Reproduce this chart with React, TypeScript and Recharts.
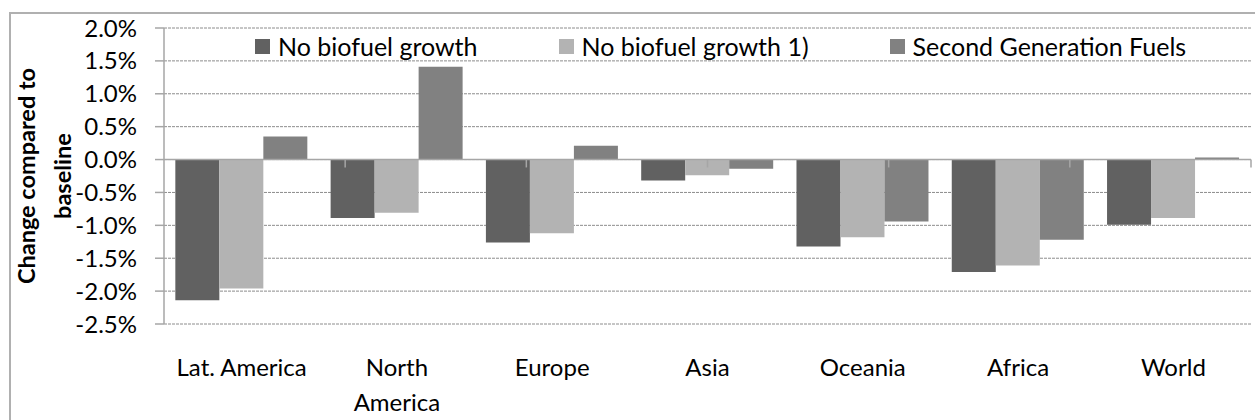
import React from "react"
import { BarChart, Bar, XAxis, YAxis, CartesianGrid, Legend, ReferenceLine } from "recharts"

const regions = ["Lat. America", "North America", "Europe", "Asia", "Oceania", "Africa", "World"]
const noGrowth = [-2.14, -0.89, -1.26, -0.32, -1.32, -1.71, -0.99]
const noGrowth1 = [-1.96, -0.81, -1.12, -0.24, -1.18, -1.61, -0.89]
const secondGen = [0.35, 1.41, 0.21, -0.14, -0.94, -1.22, 0.03]
const yTicks = [-2.5, -2, -1.5, -1, -0.5, 0, 0.5, 1, 1.5, 2]

const seriesNames = ["No biofuel growth", "No biofuel growth 1)", "Second Generation Fuels"]
const seriesKeys = ["noGrowth", "noGrowth1", "secondGen"]
const colors = ["#616161", "#b3b3b3", "#818181"]

const data = regions.map((region, i) => ({
  region,
  noGrowth: noGrowth[i],
  noGrowth1: noGrowth1[i],
  secondGen: secondGen[i],
}))

// category boundaries on a hidden numeric axis, for the small ticks under the zero line
const boundaries = regions.map((_, i) => i + 1)

const axisGray = "#a6a6a6"
const font = "Lato, 'Open Sans', sans-serif"

// Excel wraps "North America" onto two lines
function RegionTick(props: any) {
  const { x, y, payload } = props
  const lines = payload.value === "North America" ? ["North", "America"] : [payload.value]
  return (
    <text x={x} y={y} textAnchor="middle" fill="#000" fontSize={24} fontFamily={font}>
      {lines.map((l: string, i: number) => (
        <tspan key={i} x={x} dy={i === 0 ? 52 : 35}>
          {l}
        </tspan>
      ))}
    </text>
  )
}

function YTitle(props: any) {
  const vb = props.viewBox || { y: 28, height: 296 }
  const cy = vb.y + vb.height / 2
  return (
    <g fontFamily={font} fontWeight={700} fontSize={23.5} fill="#000">
      <text x={35} y={cy} textAnchor="middle" transform={`rotate(-90 35 ${cy})`}>
        Change compared to
      </text>
      <text x={71} y={cy} textAnchor="middle" transform={`rotate(-90 71 ${cy})`}>
        baseline
      </text>
    </g>
  )
}

function LegendBox() {
  return (
    <div style={{ display: "flex", alignItems: "center", fontFamily: font, fontSize: 25, lineHeight: "29px", color: "#000" }}>
      {seriesNames.map((name, i) => (
        <div key={name} style={{ display: "flex", alignItems: "center", marginRight: 81 }}>
          <span style={{ display: "inline-block", width: 15, height: 15, background: colors[i], marginRight: 8 }} />
          <span style={{ whiteSpace: "nowrap" }}>{name}</span>
        </div>
      ))}
    </div>
  )
}

export default function App() {
  return (
    <div
      style={{
        position: "fixed",
        left: 0,
        top: 0,
        width: 1255,
        height: 420,
        overflow: "hidden",
        background: "#fff",
        fontFamily: font,
      }}
    >
      <div
        style={{
          position: "absolute",
          left: 9,
          top: 12,
          width: 1400,
          height: 500,
          borderLeft: "2px solid #b0b0b0",
          borderTop: "2px solid #b0b0b0",
        }}
      />
      <div style={{ position: "absolute", left: 0, top: 0 }}>
        <BarChart
          width={1255}
          height={420}
          data={data}
          margin={{ top: 28, right: 4, bottom: 0, left: 0 }}
          barCategoryGap="7.3%"
          barGap={0}
        >
          <CartesianGrid vertical={false} stroke="#8c8c8c" strokeDasharray="3 1" />
          <XAxis
            dataKey="region"
            height={96}
            axisLine={false}
            tickLine={false}
            tickSize={0}
            tickMargin={0}
            interval={0}
            tick={<RegionTick />}
          />
          <XAxis xAxisId="edges" type="number" domain={[0, regions.length]} hide />
          <YAxis
            width={164}
            domain={[-2.5, 2]}
            ticks={yTicks}
            interval={0}
            tickFormatter={(v: number) => `${v.toFixed(1)}%`}
            tick={{ fill: "#000", fontSize: 24, fontFamily: font }}
            tickSize={9}
            tickMargin={18}
            stroke={axisGray}
            axisLine={{ stroke: axisGray, strokeWidth: 1.5 }}
            tickLine={{ stroke: axisGray, strokeWidth: 1.5 }}
            label={{ content: <YTitle /> }}
          />
          <Legend
            verticalAlign="middle"
            layout="horizontal"
            wrapperStyle={{ top: 32, left: 255, width: 1000 }}
            content={<LegendBox />}
          />
          {seriesKeys.map((k, i) => (
            <Bar key={k} dataKey={k} name={seriesNames[i]} fill={colors[i]} isAnimationActive={false} />
          ))}
          <ReferenceLine y={0} stroke={axisGray} strokeWidth={1.5} />
          {boundaries.map((b) => (
            <ReferenceLine
              key={b}
              xAxisId="edges"
              segment={[
                { x: b, y: 0 },
                { x: b, y: -0.12 },
              ]}
              stroke={axisGray}
              strokeWidth={1.5}
            />
          ))}
        </BarChart>
      </div>
    </div>
  )
}
